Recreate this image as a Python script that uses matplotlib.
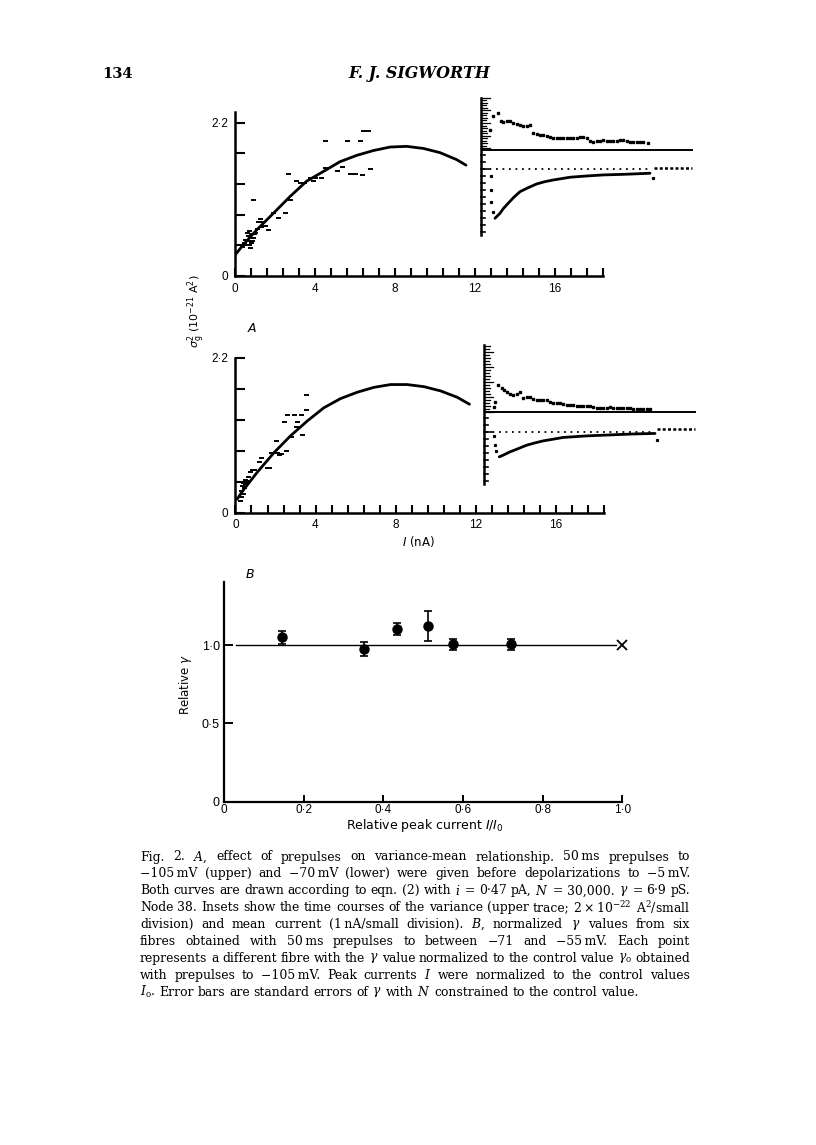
import numpy as np
import matplotlib
matplotlib.use("Agg")
import matplotlib.pyplot as plt

# ---------------- data ----------------
# Panel A (upper): variance-mean, -105 mV prepulse
up_curve_I = [0.0, 0.42, 1.08, 1.92, 2.75, 3.58, 4.42, 5.25, 6.08, 6.92, 7.75, 8.58, 9.42, 10.25, 11.08, 11.55]
up_curve_v = [0.30, 0.45, 0.66, 0.90, 1.14, 1.36, 1.50, 1.64, 1.73, 1.80, 1.85, 1.86, 1.83, 1.77, 1.67, 1.59]
up_pts_I = [0.92, 4.5, 5.58, 6.25, 6.42, 6.67, 6.75, 5.75, 6.0, 6.33, 5.1, 4.58, 4.5, 5.33, 2.67, 3.05,
            3.25, 3.45, 3.75, 4.0, 4.3, 3.9, 2.5, 2.17, 1.67, 1.17, 1.25, 1.35, 2.75, 1.9, 1.5, 1.0,
            0.7, 0.75, 0.8, 0.85, 0.6, 0.65, 0.55, 0.7, 0.9, 0.8, 0.5, 0.95, 1.1, 1.3, 0.35, 0.45, 0.6, 0.75]
up_pts_v = [1.09, 1.93, 1.93, 1.93, 2.08, 2.08, 1.54, 1.47, 1.47, 1.45, 1.50, 1.55, 1.55, 1.57, 1.47, 1.37,
            1.33, 1.33, 1.40, 1.40, 1.40, 1.36, 0.90, 0.83, 0.66, 0.78, 0.82, 0.77, 1.09, 0.90, 0.72, 0.62,
            0.65, 0.55, 0.60, 0.50, 0.50, 0.58, 0.45, 0.45, 0.55, 0.48, 0.52, 0.60, 0.68, 0.70, 0.42, 0.48, 0.62, 0.40]

# Panel A (lower): -70 mV prepulse
lo_curve_I = [0.08, 0.42, 1.08, 1.92, 2.75, 3.58, 4.42, 5.25, 6.08, 6.92, 7.75, 8.58, 9.42, 10.25, 11.08, 11.7]
lo_curve_v = [0.19, 0.33, 0.57, 0.85, 1.09, 1.30, 1.49, 1.62, 1.71, 1.78, 1.82, 1.82, 1.79, 1.73, 1.64, 1.54]
lo_pts_I = [3.5, 3.5, 3.33, 2.42, 2.92, 3.25, 2.58, 3.08, 3.0, 2.75, 2.5, 2.0, 2.17, 1.75, 0.83, 1.58,
            2.08, 2.25, 1.25, 1.17, 1.67, 0.92, 0.75, 0.5, 0.3, 0.35, 0.4, 0.45, 0.5, 0.55, 0.6, 0.3, 0.4, 0.25, 0.65]
lo_pts_v = [1.67, 1.46, 1.10, 1.29, 1.39, 1.39, 1.39, 1.29, 1.22, 1.08, 0.88, 1.01, 0.82, 0.84, 0.60, 0.63,
            0.85, 0.83, 0.77, 0.72, 0.63, 0.61, 0.58, 0.46, 0.30, 0.38, 0.42, 0.35, 0.40, 0.45, 0.44, 0.22, 0.26, 0.17, 0.50]

# Insets: time courses (t in ms-like units, y in nA = small divisions; variance trace in same units)
ins_up_var_t = [2.25, 3.1, 4.3, 5.0, 5.6, 6.4, 7.25, 8.1, 8.9, 9.8, 10.6, 11.4, 12.25, 13.1, 13.9, 14.75,
                15.6, 16.4, 17.2, 18.1, 18.9, 19.7, 20.6, 21.4, 22.2, 23.1, 23.9, 24.8, 25.6, 26.4, 27.3,
                28.1, 28.9, 29.8, 30.6, 31.4, 32.3, 33.1, 33.9, 34.8, 35.6, 36.4, 37.25, 38.1, 38.9, 39.75, 40.6, 41.8]
ins_up_var_v = [5.6, 7.66, 8.09, 6.9, 6.71, 6.85, 6.9, 6.6, 6.43, 6.3, 6.23, 6.2, 6.33, 5.14, 5.0, 4.9,
                4.85, 4.8, 4.6, 4.5, 4.51, 4.45, 4.5, 4.51, 4.4, 4.45, 4.43, 4.6, 4.66, 4.4, 4.1,
                3.94, 4.0, 4.1, 4.19, 4.1, 4.0, 4.04, 4.1, 4.15, 4.19, 4.0, 3.86, 3.9, 3.95, 3.94, 3.85, 3.8]
ins_up_cur_t = [3.5, 3.9, 4.75, 5.6, 6.4, 8.1, 9.75, 11.8, 13.9, 16.0, 18.1, 22.25, 26.4, 30.6, 36.4, 42.25]
ins_up_cur_i = [-7.0, -6.77, -6.29, -5.6, -5.1, -4.06, -3.2, -2.63, -2.1, -1.77, -1.53, -1.14, -0.96, -0.81, -0.71, -0.57]
ins_up_drop_t = [2.4, 2.5, 2.5, 2.9, 43.1]
ins_up_drop_i = [-0.9, -3.0, -4.7, -6.1, -1.29]
ins_up_base_var = 2.71
ins_up_after = 0.15

ins_lo_var_t = [2.5, 2.75, 3.6, 4.4, 5.0, 5.7, 6.5, 7.3, 8.2, 9.0, 9.8, 10.7, 11.5, 12.3, 13.2, 14.0, 14.8,
                15.7, 16.5, 17.3, 18.2, 19.0, 19.8, 20.7, 21.5, 22.3, 23.2, 24.0, 24.8, 25.7, 26.5, 27.3,
                28.2, 29.0, 29.8, 30.7, 31.5, 32.3, 33.2, 34.0, 34.8, 35.7, 36.5, 37.3, 38.2, 39.0, 39.8, 40.7, 41.5]
ins_lo_var_v = [3.6, 4.37, 6.76, 6.29, 6.1, 5.8, 5.5, 5.33, 5.5, 5.8, 4.86, 5.0, 5.09, 4.8, 4.61, 4.7, 4.6,
                4.61, 4.4, 4.23, 4.2, 4.14, 4.0, 3.95, 3.9, 3.85, 3.8, 3.76, 3.8, 3.78, 3.76, 3.6,
                3.5, 3.43, 3.5, 3.55, 3.57, 3.5, 3.45, 3.43, 3.5, 3.48, 3.51, 3.4, 3.35, 3.29, 3.3, 3.35, 3.33]
ins_lo_cur_t = [3.8, 4.8, 6.5, 8.2, 10.7, 12.75, 14.8, 17.3, 19.8, 25.7, 29.8, 34.0, 38.2, 42.75]
ins_lo_cur_i = [-3.48, -3.24, -2.77, -2.39, -1.81, -1.49, -1.2, -0.96, -0.71, -0.49, -0.39, -0.29, -0.2, -0.14]
ins_lo_drop_t = [2.5, 2.75, 3.0, 43.2]
ins_lo_drop_i = [-0.53, -1.8, -2.6, -1.1]
ins_lo_base_var = 2.94
ins_lo_after = 0.43

# Panel B
B_x = [0.145, 0.352, 0.434, 0.511, 0.574, 0.721]
B_y = [1.049, 0.974, 1.102, 1.123, 1.004, 1.004]
B_err = [0.042, 0.045, 0.038, 0.095, 0.035, 0.034]
B_xticks = [0, 0.2, 0.4, 0.6, 0.8, 1.0]
B_xlabels = ["0", "0\u00b72", "0\u00b74", "0\u00b76", "0\u00b78", "1\u00b70"]
B_yticks = [0, 0.5, 1.0]
B_ylabels = ["0", "0\u00b75", "1\u00b70"]

caption_lines = [
    "Fig. 2. $A$, effect of prepulses on variance-mean relationship. 50\u2009ms prepulses to",
    "\u2212105\u2009mV (upper) and \u221270\u2009mV (lower) were given before depolarizations to \u22125\u2009mV.",
    "Both curves are drawn according to eqn. (2) with $i$ = 0\u00b747 pA, $N$ = 30,000. $\\gamma$ = 6\u00b79 pS.",
    "Node 38. Insets show the time courses of the variance (upper trace; 2\u2009\u00d7\u200910$^{-22}$ A$^{2}$/small",
    "division) and mean current (1\u2009nA/small division). $B$, normalized $\\gamma$ values from six",
    "fibres obtained with 50\u2009ms prepulses to between \u221271 and \u221255\u2009mV. Each point",
    "represents a different fibre with the $\\gamma$ value normalized to the control value $\\gamma_{\\mathrm{o}}$ obtained",
    "with prepulses to \u2212105\u2009mV. Peak currents $I$ were normalized to the control values",
    "$I_{\\mathrm{o}}$. Error bars are standard errors of $\\gamma$ with $N$ constrained to the control value.",
]

# ---------------- figure ----------------
W, H = 816, 1145
fig = plt.figure(figsize=(W / 100, H / 100), dpi=100)
fig.patch.set_facecolor("white")
SANS = "Liberation Sans"
LAB = "DejaVu Sans"
SERIF = "DejaVu Serif"


def ax_px(l, t, r, b):
    return fig.add_axes([l / W, 1 - b / H, (r - l) / W, (b - t) / H])


def style_main(ax, ymax_line):
    for s in ["top", "right"]:
        ax.spines[s].set_visible(False)
    ax.spines["left"].set_linewidth(1.8)
    ax.spines["bottom"].set_linewidth(1.8)
    ax.spines["left"].set_bounds(0, ymax_line)
    ax.spines["bottom"].set_bounds(0, 18.4)
    ax.set_xlim(0, 19)
    ax.set_ylim(0, 2.5)
    xt = [0.0] + [0.8 * k for k in range(1, 24)]
    xl = ["0"] + [str(int(round(0.8 * k))) if k % 5 == 0 else "" for k in range(1, 24)]
    ax.set_xticks(xt, xl, fontsize=8.5, fontfamily=SANS)
    yt = [0.0] + [0.44 * k for k in range(1, 6)]
    yl = ["0", "", "", "", "", "2\u00b72"]
    ax.set_yticks(yt, yl, fontsize=8.5, fontfamily=SANS)
    ax.tick_params(axis="x", direction="in", length=6, width=1.5, pad=5)
    ax.tick_params(axis="y", direction="in", length=7.5, width=1.5, pad=5)
    ax.patch.set_alpha(0)


# upper panel A
axU = ax_px(235, 101.75, 615, 276)
style_main(axU, 2.35)
axU.plot(up_curve_I, up_curve_v, color="black", lw=2.0, solid_capstyle="round")
axU.plot(up_pts_I, up_pts_v, ls="none", marker="_", ms=3.6, mew=1.4, color="black")

# lower panel A
axL = ax_px(235.5, 336.75, 615.5, 512.5)
style_main(axL, 2.2)
axL.plot(lo_curve_I, lo_curve_v, color="black", lw=2.0, solid_capstyle="round")
axL.plot(lo_pts_I, lo_pts_v, ls="none", marker="_", ms=3.6, mew=1.4, color="black")


def draw_inset(ax, var_t, var_v, cur_t, cur_i, drop_t, drop_i, base_var, after, ruler_top, ruler_bot,
               var_tick_start, var_tick_step, n_var):
    ax.set_xlim(0, 54)
    ax.axis("off")
    ax.patch.set_alpha(0)
    # ruler
    ax.plot([0, 0], [ruler_bot, ruler_top], color="black", lw=1.8, clip_on=False)
    cur_ticks = np.arange(np.ceil(ruler_bot), var_tick_start, 1.0)
    for c in cur_ticks:
        L = 2.0 if abs(c) < 1e-6 else 1.1
        ax.plot([0, L], [c, c], color="black", lw=1.2, clip_on=False)
    for k in range(n_var):
        yv = var_tick_start + k * var_tick_step
        L = 2.2 if k % 5 == 0 else (1.6 if k % 2 == 0 else 1.2)
        ax.plot([0, L], [yv, yv], color="black", lw=0.9, clip_on=False)
    # variance baseline
    ax.plot([0, 52.8], [base_var, base_var], color="black", lw=1.4)
    # zero current (dotted) during pulse and after pulse
    ax.plot([0.5, 42.2], [0, 0], color="black", lw=1.3, ls=(0, (1, 2.6)))
    ax.plot([43.2, 52.8], [after, after], color="black", lw=1.8, ls=(0, (1.2, 0.9)))
    # current trace
    ax.plot(cur_t, cur_i, color="black", lw=2.0, solid_capstyle="round", solid_joinstyle="round")
    ax.plot(drop_t, drop_i, ls="none", marker="s", ms=1.3, color="black")
    # variance trace
    ax.plot(var_t, np.asarray(var_v), ls="none", marker="s", ms=1.6, color="black")


axIU = ax_px(481, 95, 697, 240)
axIU.set_ylim(-10.1, 10.6)
draw_inset(axIU, ins_up_var_t, ins_up_var_v, ins_up_cur_t, ins_up_cur_i, ins_up_drop_t, ins_up_drop_i,
           ins_up_base_var, ins_up_after, 10.2, -9.4, 3.0, 0.36, 21)

axIL = ax_px(484, 340, 700, 485)
axIL.set_ylim(-7.5, 13.2)
draw_inset(axIL, ins_lo_var_t, ins_lo_var_v, ins_lo_cur_t, ins_lo_cur_i, ins_lo_drop_t, ins_lo_drop_i,
           ins_lo_base_var, ins_lo_after, 12.5, -7.3, 2.94, 0.43, 23)

# labels panel A
fig.text(197 / W, 1 - 311 / H, r"$\sigma_{\rm g}^{2}$ (10$^{-21}$ A$^{2}$)", rotation=90, ha="center",
         va="center", fontsize=8, family=LAB, math_fontfamily="dejavusans")
fig.text(252 / W, 1 - 328 / H, "A", ha="center", va="center", fontsize=9, family=LAB, style="italic")
fig.text(418 / W, 1 - 541 / H, r"$I$ (nA)", ha="center", va="center", fontsize=8.5, family=LAB,
         math_fontfamily="dejavusans")

# panel B
axB = ax_px(224, 574.5, 642.2, 801.7)
axB.set_xlim(0, 1.05)
axB.set_ylim(0, 1.45)
for s in ["top", "right"]:
    axB.spines[s].set_visible(False)
axB.spines["left"].set_linewidth(1.6)
axB.spines["bottom"].set_linewidth(1.6)
axB.spines["left"].set_bounds(0, 1.4)
axB.spines["bottom"].set_bounds(0, 1.0)
axB.set_xticks(B_xticks, B_xlabels, fontsize=8.5, fontfamily=SANS)
axB.set_yticks(B_yticks, B_ylabels, fontsize=9, fontfamily=SANS)
axB.tick_params(axis="x", direction="in", length=5, width=1.4, pad=2)
axB.tick_params(axis="y", direction="in", length=6.5, width=1.4, pad=3)
axB.plot([0.03, 0.985], [1.0, 1.0], color="black", lw=1.0)
axB.plot([1.0], [1.0], marker="x", ms=7, mew=1.3, color="black", clip_on=False)
axB.errorbar(B_x, B_y, yerr=B_err, fmt="o", color="black", ms=6.5, capsize=3.2, elinewidth=1.2,
             capthick=1.2)
axB.patch.set_alpha(0)
fig.text(186 / W, 1 - 684 / H, r"Relative $\gamma$", rotation=90, ha="center", va="center", fontsize=8.5,
         family=LAB, math_fontfamily="dejavusans")
fig.text(425 / W, 1 - 826 / H, r"Relative peak current $I/I_{\rm 0}$", ha="center", va="center",
         fontsize=9, family=LAB, math_fontfamily="dejavusans")
fig.text(250 / W, 1 - 575 / H, "B", ha="center", va="center", fontsize=9, family=LAB, style="italic")

# ---------------- header ----------------
renderer = fig.canvas.get_renderer()
fig.text(102 / W, 1 - 74 / H, "134", ha="left", va="center", fontsize=10.5, family=SERIF, weight="bold")
title = fig.text(348 / W, 1 - 74 / H, "F. J. SIGWORTH", ha="left", va="center", fontsize=11,
                 family=SERIF, weight="bold", style="italic")
tw = title.get_window_extent(renderer).width
title.set_fontsize(11 * 142.0 / tw)

# ---------------- caption (justified) ----------------
left_px, right_px = 140.0, 690.0
target = right_px - left_px
line_y0, line_dy = 857.0, 16.9


def tokens_of(line):
    return line.split(" ")


def measure(tok, fs):
    t = fig.text(0, 0, tok, fontsize=fs, family=SERIF, math_fontfamily="dejavuserif")
    w = t.get_window_extent(renderer).width
    t.remove()
    return w


fs = 10.5
space_w = measure("a a", fs) - measure("aa", fs)
maxw = 0
for ln in caption_lines[:-1]:
    toks = tokens_of(ln)
    w = sum(measure(tk, fs) for tk in toks) + (len(toks) - 1) * space_w * 0.9
    maxw = max(maxw, w)
if maxw > target:
    fs = fs * target / maxw
space_w = measure("a a", fs) - measure("aa", fs)

for li, ln in enumerate(caption_lines):
    toks = tokens_of(ln)
    widths = [measure(tk, fs) for tk in toks]
    if li < len(caption_lines) - 1 and len(toks) > 1:
        gap = (target - sum(widths)) / (len(toks) - 1)
    else:
        gap = space_w
    x = left_px
    ypx = line_y0 + li * line_dy
    for tk, w in zip(toks, widths):
        fig.text(x / W, 1 - ypx / H, tk, fontsize=fs, family=SERIF, math_fontfamily="dejavuserif",
                 ha="left", va="center")
        x += w + gap

fig.savefig("out.png", dpi=100, facecolor="white")
